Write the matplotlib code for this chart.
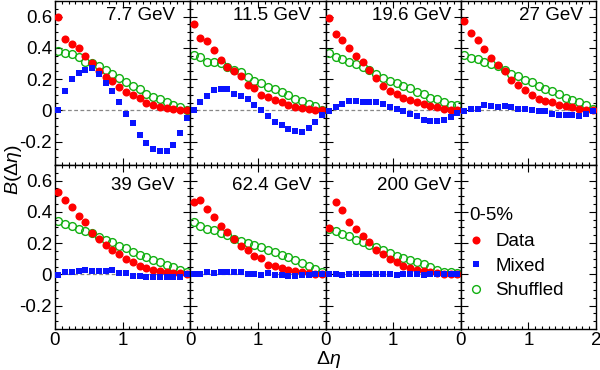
import numpy as np
import matplotlib
matplotlib.use("Agg")
import matplotlib.pyplot as plt
from matplotlib.ticker import MultipleLocator, FixedLocator

plt.rcParams['font.family'] = ['Liberation Sans', 'DejaVu Sans']
plt.rcParams['mathtext.fontset'] = 'custom'
plt.rcParams['mathtext.rm'] = 'Liberation Sans'
plt.rcParams['mathtext.it'] = 'Liberation Sans:italic'

energies = ["7.7 GeV", "11.5 GeV", "19.6 GeV", "27 GeV", "39 GeV", "62.4 GeV", "200 GeV"]
deta = [0.05, 0.15, 0.25, 0.35, 0.45, 0.55, 0.65, 0.75, 0.85, 0.95,
        1.05, 1.15, 1.25, 1.35, 1.45, 1.55, 1.65, 1.75, 1.85, 1.95]

data_7 = [0.597, 0.459, 0.426, 0.399, 0.349, 0.305, 0.252, 0.213, 0.191, 0.151, 0.120, 0.099, 0.077, 0.046, 0.033, 0.020, 0.015, 0.011, 0.005, 0.000]
shuf_7 = [0.382, 0.366, 0.360, 0.344, 0.311, 0.300, 0.285, 0.261, 0.235, 0.206, 0.184, 0.158, 0.136, 0.107, 0.088, 0.070, 0.053, 0.033, 0.022, 0.005]
mix_7 = [0.005, 0.125, 0.202, 0.239, 0.257, 0.268, 0.230, 0.176, 0.125, 0.055, -0.022, -0.083, -0.156, -0.210, -0.248, -0.259, -0.259, -0.222, -0.145, -0.050]

data_11 = [0.553, 0.461, 0.443, 0.384, 0.322, 0.278, 0.250, 0.219, 0.162, 0.143, 0.097, 0.086, 0.066, 0.053, 0.037, 0.022, 0.015, 0.011, 0.005, 0.005]
shuf_11 = [0.355, 0.344, 0.311, 0.311, 0.300, 0.278, 0.261, 0.245, 0.213, 0.191, 0.173, 0.151, 0.136, 0.118, 0.097, 0.074, 0.059, 0.041, 0.026, 0.005]
mix_11 = [0.000, 0.055, 0.092, 0.127, 0.138, 0.138, 0.107, 0.092, 0.074, 0.037, 0.000, -0.039, -0.077, -0.094, -0.120, -0.134, -0.138, -0.116, -0.077, -0.028]

data_19 = [0.592, 0.491, 0.449, 0.399, 0.349, 0.311, 0.257, 0.206, 0.158, 0.125, 0.103, 0.077, 0.064, 0.055, 0.041, 0.026, 0.020, 0.011, 0.005, 0.005]
shuf_19 = [0.366, 0.340, 0.327, 0.311, 0.296, 0.278, 0.257, 0.230, 0.208, 0.191, 0.173, 0.158, 0.143, 0.120, 0.103, 0.081, 0.070, 0.053, 0.037, 0.031]
mix_19 = [-0.007, 0.020, 0.041, 0.059, 0.059, 0.055, 0.055, 0.053, 0.041, 0.020, 0.011, -0.007, -0.024, -0.039, -0.061, -0.066, -0.066, -0.061, -0.044, -0.018]

data_27 = [0.570, 0.498, 0.449, 0.395, 0.338, 0.289, 0.250, 0.197, 0.162, 0.130, 0.099, 0.074, 0.059, 0.053, 0.037, 0.026, 0.020, 0.011, 0.005, 0.000]
shuf_27 = [0.355, 0.338, 0.329, 0.311, 0.294, 0.283, 0.257, 0.235, 0.217, 0.197, 0.180, 0.158, 0.136, 0.125, 0.103, 0.081, 0.066, 0.053, 0.033, 0.011]
mix_27 = [-0.007, 0.009, 0.011, 0.031, 0.026, 0.022, 0.026, 0.020, 0.011, 0.011, 0.005, -0.002, -0.007, -0.022, -0.028, -0.028, -0.033, -0.035, -0.022, -0.007]

data_39 = [0.528, 0.478, 0.429, 0.375, 0.332, 0.264, 0.228, 0.185, 0.153, 0.132, 0.098, 0.082, 0.055, 0.043, 0.029, 0.022, 0.014, 0.008, 0.008, 0.003]
shuf_39 = [0.339, 0.322, 0.307, 0.290, 0.275, 0.264, 0.239, 0.217, 0.204, 0.183, 0.168, 0.140, 0.125, 0.108, 0.093, 0.078, 0.061, 0.044, 0.029, 0.018]
mix_39 = [-0.003, 0.012, 0.018, 0.024, 0.029, 0.024, 0.024, 0.024, 0.029, 0.008, 0.008, -0.008, -0.008, -0.014, -0.014, -0.018, -0.018, -0.018, -0.014, 0.003]

data_62 = [0.461, 0.474, 0.420, 0.365, 0.307, 0.271, 0.228, 0.183, 0.153, 0.119, 0.104, 0.061, 0.055, 0.040, 0.029, 0.022, 0.014, 0.008, 0.003, 0.003]
shuf_62 = [0.335, 0.311, 0.292, 0.286, 0.264, 0.249, 0.228, 0.215, 0.200, 0.189, 0.175, 0.153, 0.140, 0.125, 0.108, 0.093, 0.072, 0.055, 0.033, 0.018]
mix_62 = [0.003, 0.003, 0.012, 0.008, 0.018, 0.018, 0.014, 0.014, 0.003, 0.003, -0.003, 0.008, -0.003, -0.003, -0.008, -0.010, -0.003, -0.003, 0.001, 0.003]

data_200 = [0.296, 0.461, 0.410, 0.335, 0.292, 0.247, 0.204, 0.157, 0.130, 0.100, 0.082, 0.055, 0.040, 0.029, 0.024, 0.014, 0.008, 0.003, 0.003, 0.003]
shuf_200 = [0.290, 0.279, 0.260, 0.243, 0.221, 0.204, 0.189, 0.172, 0.153, 0.136, 0.119, 0.104, 0.093, 0.078, 0.065, 0.046, 0.029, 0.018, 0.014, 0.008]
mix_200 = [0.000, 0.003, -0.003, 0.005, 0.003, 0.003, 0.003, 0.005, 0.003, 0.003, -0.003, 0.003, 0.003, 0.000, -0.003, 0.000, 0.000, 0.000, 0.000, 0.000]

data_all = [data_7, data_11, data_19, data_27, data_39, data_62, data_200]
shuf_all = [shuf_7, shuf_11, shuf_19, shuf_27, shuf_39, shuf_62, shuf_200]
mix_all = [mix_7, mix_11, mix_19, mix_27, mix_39, mix_62, mix_200]

RED = '#ff0000'
BLUE = '#0a14ff'
GREEN = '#12b012'
FS = 13.5

fig = plt.figure(figsize=(6.0, 3.7), dpi=100)
gs = fig.add_gridspec(2, 4, left=55/600, right=596/600, top=1-1/370, bottom=1-329/370,
                      hspace=0, wspace=0)

axes = []
for r in range(2):
    for c in range(4):
        ax = fig.add_subplot(gs[r, c])
        axes.append(ax)
        ax.set_xlim(0, 2)
        ax.set_ylim(-0.35, 0.70)
        ax.xaxis.set_major_locator(FixedLocator([0, 1, 2]))
        ax.xaxis.set_minor_locator(MultipleLocator(0.1))
        ax.yaxis.set_major_locator(FixedLocator([-0.2, 0, 0.2, 0.4, 0.6]))
        ax.yaxis.set_minor_locator(MultipleLocator(0.05))
        ax.tick_params(which='both', direction='in', top=True, right=True, labelsize=FS,
                       width=0.8, pad=2)
        ax.tick_params(which='major', length=5)
        ax.tick_params(which='minor', length=2.5)
        for s in ax.spines.values():
            s.set_linewidth(1.0)
        if c == 0:
            ax.set_yticklabels(['-0.2', '0', '0.2', '0.4', '0.6'])
        else:
            ax.set_yticklabels([])
        if r == 1:
            if c == 3:
                ax.set_xticklabels(['0', '1', '2'])
            else:
                ax.set_xticklabels(['0', '1', ''])
        else:
            ax.set_xticklabels([])

label_x = [0.885, 0.895, 0.93, 0.905, 0.885, 0.895, 0.93]
handles = None
for i, lab in enumerate(energies):
    ax = axes[i]
    ax.axhline(0, color='#888888', lw=0.9, ls=(0, (3, 2)), zorder=1)
    hg, = ax.plot(deta, shuf_all[i], 'o', mfc='none', mec=GREEN, mew=1.0, ms=5.6, zorder=2)
    hr, = ax.plot(deta, data_all[i], 'o', color=RED, ms=5.8, mew=0, zorder=3)
    hb, = ax.plot(deta, mix_all[i], 's', color=BLUE, ms=4.6, mew=0, zorder=4)
    ty = 0.965 if i < 4 else 0.925
    ax.text(label_x[i], ty, lab, transform=ax.transAxes, ha='right', va='top', fontsize=FS)
    handles = [hr, hb, hg]

leg_ax = axes[7]
leg_ax.text(0.065, 0.695, '0-5%', transform=leg_ax.transAxes, ha='left', va='center',
            fontsize=FS)
leg = leg_ax.legend(handles, ['Data', 'Mixed', 'Shuffled'], loc='upper left',
                    bbox_to_anchor=(0.06, 0.585), frameon=False, fontsize=FS,
                    handlelength=0.8, handletextpad=0.6, labelspacing=0.40,
                    borderaxespad=0, borderpad=0)

fig.text(13/600, 1-170/370, r'$B(\Delta\eta)$', rotation=90, ha='center', va='center',
         fontsize=14)
fig.text(328/600, 1-359/370, r'$\Delta\eta$', ha='center', va='center', fontsize=14)

fig.savefig('out.png', dpi=100)
